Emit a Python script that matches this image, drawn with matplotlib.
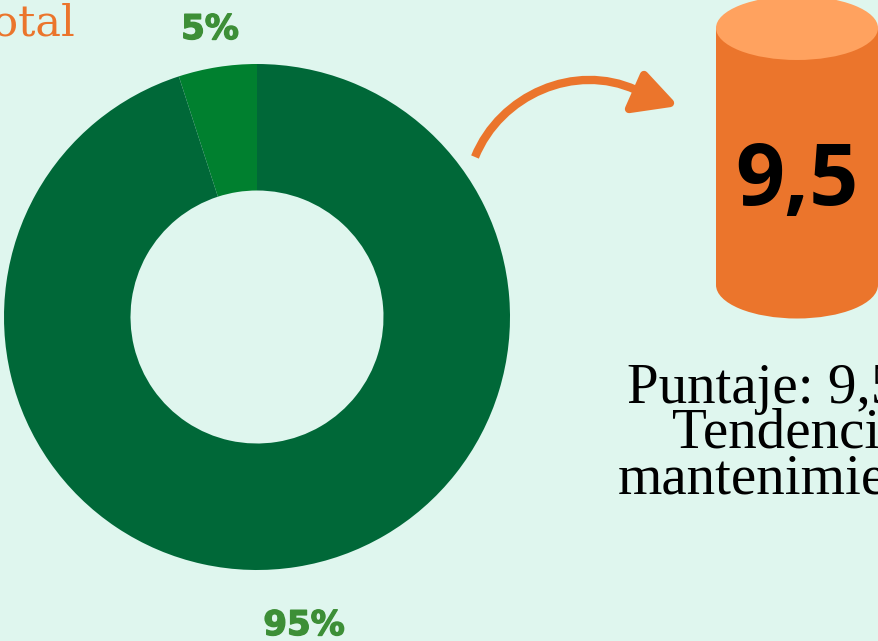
import matplotlib
matplotlib.use('Agg')
import matplotlib.pyplot as plt
import matplotlib.patheffects as pe
from matplotlib.patches import Ellipse, Rectangle, PathPatch, Polygon
from matplotlib.path import Path

W, H = 879, 641
BG = '#DFF6EE'
ORANGE = '#EB752C'
VERDE = '#3D8F37'

# datos del anillo
valores = [5, 95]
colores = ['#00802F', '#006838']
etiquetas = ['5%', '95%']
puntaje = '9,5'
lineas = ['Puntaje: 9,5', 'Tendencia:', 'mantenimiento']

fig = plt.figure(figsize=(W / 100, H / 100), dpi=100, facecolor=BG)

# anillo, ejes propios en pixeles
cx, cy, r = 257, 317, 253
ax_pie = fig.add_axes([(cx - r) / W, 1 - (cy + r) / H, 2 * r / W, 2 * r / H])
ax_pie.pie(valores, colors=colores, startangle=90, radius=1,
           wedgeprops=dict(width=0.5, linewidth=0))
ax_pie.set_xlim(-1, 1)
ax_pie.set_ylim(-1, 1)
ax_pie.axis('off')

# capa superior en coordenadas de pixel
ax = fig.add_axes([0, 0, 1, 1], facecolor='none')
ax.set_xlim(0, W)
ax.set_ylim(H, 0)
ax.axis('off')

# cilindro
ax.add_patch(Ellipse((797, 285), 162, 67, color=ORANGE, lw=0))
ax.add_patch(Rectangle((716, 28), 162, 257, color=ORANGE, lw=0))
ax.add_patch(Ellipse((797, 28), 162, 64, color='#FFA25F', lw=0))
ax.text(797, 205, puntaje, fontsize=62, fontweight='bold', family='Open Sans',
        ha='center', va='baseline', color='black')

# flecha
curva = Path([(475, 157), (500, 95), (575, 62), (636, 90)],
             [Path.MOVETO, Path.CURVE4, Path.CURVE4, Path.CURVE4])
ax.add_patch(PathPatch(curva, fc='none', ec=ORANGE, lw=6, capstyle='butt'))
ax.add_patch(Polygon([(644, 75), (670, 103), (629, 109)], closed=True,
                     fc=ORANGE, ec=ORANGE, lw=6, joinstyle='round'))

# textos
ax.text(75, 35, 'Total', fontsize=31, family='DejaVu Serif', color=ORANGE,
        ha='right', va='baseline')
grueso = [pe.withStroke(linewidth=1.0, foreground=VERDE)]
ax.text(210, 39, etiquetas[0], fontsize=24.5, fontweight='bold', color=VERDE,
        ha='center', va='baseline', path_effects=grueso)
ax.text(304, 635, etiquetas[1], fontsize=24.5, fontweight='bold', color=VERDE,
        ha='center', va='baseline', path_effects=grueso)
ax.text(627, 403, lineas[0], fontsize=41, family='Liberation Serif', va='baseline')
ax.text(672, 448, lineas[1], fontsize=41, family='Liberation Serif', va='baseline')
ax.text(618, 493, lineas[2], fontsize=41, family='Liberation Serif', va='baseline')

fig.savefig('out.png', dpi=100, facecolor=BG)
plt.close(fig)
